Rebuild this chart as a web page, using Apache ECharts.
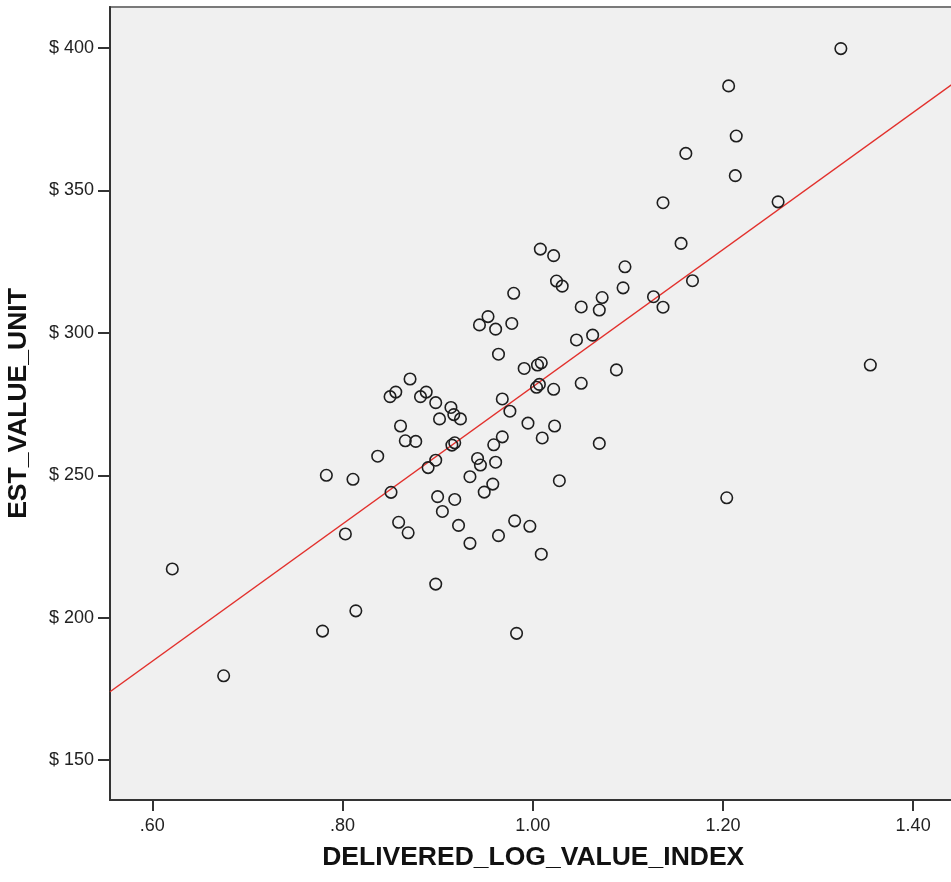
<!DOCTYPE html>
<html>
<head>
<meta charset="utf-8">
<title>EST_VALUE_UNIT vs DELIVERED_LOG_VALUE_INDEX</title>
<script src="https://cdn.jsdelivr.net/npm/echarts@6/dist/echarts.min.js"></script>
<style>
  html, body { margin: 0; padding: 0; background: #ffffff; }
  #chart { width: 951px; height: 882px; }
</style>
</head>
<body>
<div id="chart"></div>
<script>
// Observed index values (x) and estimated unit values in dollars (y)
const deliveredIndex = [
  0.621, 0.675, 0.779, 0.783, 0.803, 0.811, 0.814, 0.837, 0.851, 0.850,
  0.856, 0.859, 0.861, 0.866, 0.869, 0.871, 0.877, 0.882, 0.888, 0.890,
  0.898, 0.898, 0.898, 0.900, 0.902, 0.905, 0.914, 0.915, 0.917, 0.918,
  0.918, 0.922, 0.924, 0.934, 0.934, 0.942, 0.944, 0.945, 0.949, 0.953,
  0.958, 0.959, 0.961, 0.961, 0.964, 0.964, 0.968, 0.968, 0.976, 0.978,
  0.980, 0.981, 0.983, 0.991, 0.995, 0.997, 1.004, 1.005, 1.007, 1.008,
  1.009, 1.009, 1.010, 1.022, 1.022, 1.023, 1.025, 1.028, 1.031, 1.046,
  1.051, 1.051, 1.063, 1.070, 1.070, 1.073, 1.088, 1.095, 1.097, 1.127,
  1.137, 1.137, 1.156, 1.161, 1.168, 1.204, 1.206, 1.213, 1.214, 1.258,
  1.324, 1.355
];
const estValueUnit = [
  217.1, 179.6, 195.3, 250.0, 229.4, 248.6, 202.4, 256.7, 244.0, 277.6,
  279.2, 233.5, 267.3, 262.1, 229.8, 283.8, 261.9, 277.6, 279.2, 252.7,
  275.5, 211.8, 255.3, 242.5, 269.8, 237.3, 273.8, 260.6, 271.3, 261.4,
  241.5, 232.4, 269.8, 249.5, 226.1, 255.9, 302.8, 253.6, 244.1, 305.7,
  246.9, 260.7, 301.3, 254.6, 292.5, 228.8, 276.8, 263.5, 272.5, 303.3,
  313.9, 234.0, 194.5, 287.5, 268.3, 232.1, 280.9, 288.7, 281.9, 329.4,
  289.5, 222.3, 263.1, 327.1, 280.2, 267.3, 318.2, 248.1, 316.4, 297.5,
  309.1, 282.3, 299.2, 308.0, 261.2, 312.4, 287.0, 315.8, 323.2, 312.7,
  309.0, 345.7, 331.4, 363.0, 318.3, 242.1, 386.7, 355.2, 369.1, 346.0,
  399.8, 288.7
];

// Axis ranges and tick positions
const xRange = [0.5555, 1.4455];
const yRange = [136, 414.4];
const xTicks = [0.6, 0.8, 1.0, 1.2, 1.4];
const yTicks = [150, 200, 250, 300, 350, 400];

// Linear fit line: y = fitIntercept + fitSlope * x
const fitIntercept = 40.24;
const fitSlope = 240.8;

const points = deliveredIndex.map((x, i) => [x, estValueUnit[i]]);
const fitLine = xRange.map(x => [x, fitIntercept + fitSlope * x]);

const chart = echarts.init(document.getElementById('chart'), null, { renderer: 'canvas' });

const labelFont = {
  fontFamily: '"Liberation Sans", Arial, sans-serif',
  fontSize: 18,
  color: '#222'
};
const titleFont = {
  fontFamily: '"Liberation Sans", Arial, sans-serif',
  fontSize: 26.5,
  fontWeight: 'bold',
  color: '#111'
};

chart.setOption({
  animation: false,
  backgroundColor: '#ffffff',
  grid: {
    left: 110,
    top: 7,
    width: 846.4,
    height: 793,
    show: true,
    backgroundColor: '#f0f0f0',
    borderColor: '#7a7a7a',
    borderWidth: 2,
    outerBoundsMode: 'none'
  },
  xAxis: {
    type: 'value',
    min: xRange[0],
    max: xRange[1],
    name: 'DELIVERED_LOG_VALUE_INDEX',
    nameLocation: 'middle',
    nameGap: 44,
    nameTextStyle: titleFont,
    axisLine: { show: true, onZero: false, lineStyle: { color: '#333', width: 2 } },
    axisTick: { show: true, length: 11, customValues: xTicks, lineStyle: { color: '#333', width: 2 } },
    axisLabel: Object.assign({
      margin: 17,
      customValues: xTicks,
      formatter: v => v.toFixed(2).replace(/^0\./, '.')
    }, labelFont),
    splitLine: { show: false }
  },
  yAxis: {
    type: 'value',
    min: yRange[0],
    max: yRange[1],
    name: 'EST_VALUE_UNIT',
    nameLocation: 'middle',
    nameGap: 78,
    nameTextStyle: titleFont,
    axisLine: { show: true, onZero: false, lineStyle: { color: '#333', width: 2 } },
    axisTick: { show: true, length: 12, customValues: yTicks, lineStyle: { color: '#333', width: 2 } },
    axisLabel: Object.assign({
      margin: 16,
      customValues: yTicks,
      formatter: v => '$ ' + v
    }, labelFont),
    splitLine: { show: false }
  },
  series: [
    {
      type: 'line',
      data: fitLine,
      showSymbol: false,
      symbol: 'none',
      silent: true,
      clip: true,
      lineStyle: { color: '#e2302c', width: 1.5 },
      z: 2
    },
    {
      type: 'scatter',
      data: points,
      symbol: 'circle',
      symbolSize: 11.5,
      itemStyle: {
        color: 'rgba(0,0,0,0)',
        borderColor: '#1e1e1e',
        borderWidth: 1.6,
        opacity: 1
      },
      z: 3
    }
  ]
});
</script>
</body>
</html>
